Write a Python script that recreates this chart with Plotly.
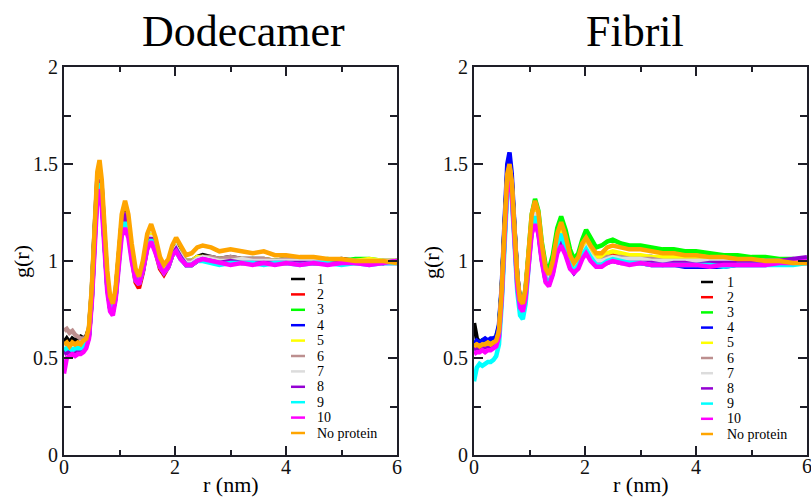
import plotly.graph_objects as go
from plotly.subplots import make_subplots

# ---- data ----
r_nm = [0.00, 0.05, 0.10, 0.15, 0.20, 0.25, 0.30, 0.35, 0.40, 0.45,
        0.50, 0.55, 0.60, 0.64, 0.68, 0.73, 0.78, 0.83, 0.88, 0.93,
        0.98, 1.04, 1.10, 1.16, 1.22, 1.29, 1.35, 1.42, 1.50, 1.57,
        1.65, 1.73, 1.80, 1.88, 1.95, 2.02, 2.10, 2.20, 2.30, 2.40,
        2.50, 2.65, 2.80, 3.00, 3.20, 3.40, 3.60, 3.80, 4.00, 4.25,
        4.50, 4.75, 5.00, 5.25, 5.50, 5.75, 6.00]

series_names = ["1", "2", "3", "4", "5", "6", "7", "8", "9", "10", "No protein"]
series_colors = ["#000000", "#ff0000", "#00ff00", "#0000ff", "#ffff00", "#bc8f8f",
                 "#dcdcdc", "#9400d3", "#00ffff", "#ff00ff", "#ffa500"]

dodecamer_1 = [0.58, 0.60, 0.58, 0.60, 0.59, 0.60, 0.61, 0.60, 0.61, 0.65, 0.84, 1.15, 1.42, 1.47, 1.38, 1.13, 0.90, 0.78, 0.76, 0.84, 1.02, 1.20, 1.26, 1.19, 1.05, 0.93, 0.90, 0.97, 1.10, 1.14, 1.08, 1.00, 0.96, 0.99, 1.05, 1.08, 1.03, 1.00, 1.00, 1.02, 1.03, 1.02, 1.01, 1.02, 1.01, 1.01, 1.01, 1.00, 1.01, 1.00, 1.00, 1.00, 1.01, 1.00, 1.00, 0.99, 1.00]
dodecamer_2 = [0.54, 0.55, 0.54, 0.55, 0.55, 0.54, 0.55, 0.56, 0.57, 0.62, 0.81, 1.12, 1.38, 1.44, 1.35, 1.10, 0.87, 0.76, 0.74, 0.82, 0.99, 1.17, 1.23, 1.16, 1.02, 0.89, 0.86, 0.94, 1.07, 1.12, 1.05, 0.96, 0.93, 0.97, 1.03, 1.06, 1.02, 0.98, 0.98, 1.00, 1.01, 1.00, 0.99, 1.00, 0.99, 0.99, 1.00, 0.99, 0.99, 1.00, 0.99, 0.99, 1.00, 0.99, 0.99, 1.00, 1.00]
dodecamer_3 = [0.56, 0.55, 0.56, 0.57, 0.56, 0.57, 0.56, 0.57, 0.58, 0.63, 0.82, 1.13, 1.39, 1.45, 1.36, 1.11, 0.88, 0.77, 0.75, 0.83, 1.01, 1.19, 1.24, 1.18, 1.04, 0.92, 0.89, 0.96, 1.10, 1.14, 1.07, 0.99, 0.96, 0.99, 1.04, 1.07, 1.03, 1.00, 1.00, 1.01, 1.02, 1.01, 1.01, 1.01, 1.00, 1.01, 1.00, 1.00, 1.01, 1.00, 1.00, 1.01, 1.00, 1.01, 1.01, 1.00, 1.00]
dodecamer_4 = [0.53, 0.54, 0.53, 0.54, 0.55, 0.54, 0.55, 0.55, 0.57, 0.62, 0.81, 1.11, 1.38, 1.43, 1.34, 1.10, 0.88, 0.76, 0.74, 0.82, 1.00, 1.17, 1.22, 1.17, 1.03, 0.91, 0.89, 0.95, 1.08, 1.12, 1.06, 0.98, 0.95, 0.98, 1.03, 1.06, 1.02, 0.98, 0.98, 1.00, 1.01, 1.00, 0.99, 0.99, 1.00, 0.99, 0.99, 0.99, 1.00, 0.99, 0.99, 0.99, 0.99, 1.00, 0.99, 0.99, 0.99]
dodecamer_5 = [0.55, 0.57, 0.56, 0.56, 0.57, 0.56, 0.57, 0.57, 0.59, 0.64, 0.83, 1.14, 1.40, 1.45, 1.36, 1.12, 0.89, 0.78, 0.76, 0.84, 1.02, 1.20, 1.25, 1.19, 1.05, 0.93, 0.90, 0.97, 1.10, 1.14, 1.08, 1.00, 0.96, 0.99, 1.05, 1.07, 1.03, 1.00, 1.00, 1.02, 1.02, 1.01, 1.01, 1.01, 1.01, 1.00, 1.01, 1.00, 1.00, 1.01, 1.00, 1.00, 1.00, 1.00, 1.01, 1.00, 1.00]
dodecamer_6 = [0.64, 0.65, 0.63, 0.64, 0.62, 0.61, 0.60, 0.60, 0.60, 0.64, 0.83, 1.13, 1.39, 1.44, 1.35, 1.11, 0.88, 0.77, 0.75, 0.83, 1.01, 1.18, 1.23, 1.17, 1.04, 0.92, 0.89, 0.96, 1.09, 1.13, 1.07, 0.99, 0.96, 0.99, 1.04, 1.06, 1.03, 1.00, 1.00, 1.01, 1.02, 1.02, 1.01, 1.02, 1.01, 1.01, 1.01, 1.00, 1.01, 1.00, 1.00, 1.00, 1.00, 1.00, 0.99, 1.00, 1.00]
dodecamer_7 = [0.56, 0.56, 0.57, 0.56, 0.57, 0.57, 0.56, 0.58, 0.58, 0.63, 0.82, 1.13, 1.39, 1.44, 1.35, 1.11, 0.88, 0.77, 0.75, 0.83, 1.01, 1.18, 1.24, 1.18, 1.04, 0.92, 0.89, 0.96, 1.09, 1.13, 1.07, 0.99, 0.95, 0.98, 1.04, 1.07, 1.03, 0.99, 0.99, 1.01, 1.02, 1.01, 1.00, 1.00, 1.01, 1.00, 1.00, 1.00, 1.00, 1.00, 1.00, 0.99, 1.00, 1.00, 1.00, 1.00, 1.00]
dodecamer_8 = [0.52, 0.53, 0.52, 0.53, 0.53, 0.53, 0.54, 0.54, 0.56, 0.61, 0.80, 1.11, 1.37, 1.42, 1.34, 1.10, 0.87, 0.76, 0.74, 0.82, 1.00, 1.19, 1.25, 1.18, 1.03, 0.91, 0.88, 0.95, 1.08, 1.12, 1.06, 0.98, 0.94, 0.97, 1.03, 1.06, 1.02, 0.98, 0.98, 1.00, 1.01, 1.00, 0.99, 1.00, 0.99, 0.99, 0.99, 0.99, 0.99, 0.99, 0.99, 0.99, 0.99, 0.99, 0.99, 0.99, 1.00]
dodecamer_9 = [0.54, 0.55, 0.55, 0.54, 0.55, 0.55, 0.55, 0.56, 0.57, 0.62, 0.80, 1.10, 1.36, 1.40, 1.32, 1.09, 0.86, 0.76, 0.74, 0.81, 0.99, 1.15, 1.20, 1.15, 1.02, 0.90, 0.88, 0.95, 1.07, 1.11, 1.05, 0.97, 0.94, 0.97, 1.03, 1.05, 1.01, 0.98, 0.98, 1.00, 1.00, 0.99, 0.98, 0.99, 0.99, 0.99, 0.98, 0.99, 0.99, 0.98, 0.99, 0.99, 0.98, 0.99, 0.98, 0.99, 0.99]
dodecamer_10 = [0.42, 0.50, 0.51, 0.52, 0.51, 0.52, 0.52, 0.53, 0.55, 0.60, 0.78, 1.08, 1.32, 1.37, 1.28, 1.06, 0.84, 0.74, 0.72, 0.80, 0.98, 1.13, 1.17, 1.12, 1.00, 0.90, 0.88, 0.95, 1.06, 1.10, 1.04, 0.97, 0.94, 0.97, 1.03, 1.05, 1.01, 0.98, 0.98, 1.00, 1.01, 1.00, 0.99, 0.98, 0.99, 0.98, 0.99, 0.98, 0.99, 0.98, 0.99, 0.98, 0.99, 0.99, 0.98, 0.99, 1.00]
dodecamer_np = [0.57, 0.58, 0.56, 0.58, 0.57, 0.58, 0.57, 0.59, 0.60, 0.66, 0.86, 1.18, 1.46, 1.52, 1.42, 1.18, 0.95, 0.82, 0.78, 0.86, 1.05, 1.24, 1.31, 1.24, 1.09, 0.96, 0.92, 1.00, 1.14, 1.19, 1.12, 1.02, 0.98, 1.01, 1.08, 1.12, 1.08, 1.03, 1.04, 1.07, 1.08, 1.07, 1.05, 1.06, 1.05, 1.04, 1.05, 1.03, 1.03, 1.02, 1.02, 1.01, 1.01, 1.00, 1.00, 1.00, 0.99]

fibril_1 = [0.68, 0.60, 0.58, 0.59, 0.58, 0.58, 0.58, 0.59, 0.60, 0.65, 0.85, 1.17, 1.45, 1.51, 1.41, 1.16, 0.92, 0.79, 0.77, 0.85, 1.03, 1.21, 1.27, 1.21, 1.06, 0.94, 0.91, 0.98, 1.11, 1.15, 1.09, 1.00, 0.97, 1.00, 1.06, 1.09, 1.05, 1.01, 1.01, 1.03, 1.04, 1.03, 1.02, 1.02, 1.02, 1.01, 1.01, 1.01, 1.00, 1.01, 1.00, 1.00, 1.00, 1.00, 0.99, 1.00, 1.00]
fibril_2 = [0.56, 0.56, 0.57, 0.56, 0.57, 0.57, 0.57, 0.58, 0.59, 0.64, 0.84, 1.16, 1.43, 1.49, 1.39, 1.14, 0.90, 0.78, 0.76, 0.84, 1.02, 1.20, 1.26, 1.20, 1.05, 0.93, 0.90, 0.97, 1.10, 1.14, 1.08, 0.99, 0.96, 0.99, 1.05, 1.08, 1.04, 1.00, 1.00, 1.02, 1.03, 1.02, 1.01, 1.01, 1.01, 1.00, 1.01, 1.00, 1.00, 1.00, 1.00, 1.00, 0.99, 1.00, 0.99, 1.00, 1.00]
fibril_3 = [0.57, 0.58, 0.58, 0.59, 0.58, 0.59, 0.59, 0.60, 0.61, 0.66, 0.85, 1.16, 1.43, 1.48, 1.39, 1.15, 0.91, 0.79, 0.78, 0.86, 1.05, 1.24, 1.32, 1.26, 1.10, 0.98, 0.96, 1.03, 1.17, 1.23, 1.16, 1.06, 1.01, 1.04, 1.11, 1.16, 1.12, 1.07, 1.08, 1.10, 1.11, 1.09, 1.08, 1.08, 1.07, 1.06, 1.06, 1.05, 1.05, 1.04, 1.03, 1.03, 1.02, 1.02, 1.01, 1.01, 1.00]
fibril_4 = [0.57, 0.59, 0.58, 0.59, 0.60, 0.59, 0.60, 0.60, 0.61, 0.67, 0.87, 1.20, 1.50, 1.56, 1.45, 1.17, 0.92, 0.79, 0.76, 0.83, 1.01, 1.17, 1.22, 1.16, 1.02, 0.91, 0.89, 0.95, 1.07, 1.11, 1.05, 0.97, 0.94, 0.97, 1.03, 1.05, 1.01, 0.98, 0.98, 1.00, 1.01, 1.00, 0.99, 0.99, 0.98, 0.98, 0.98, 0.97, 0.97, 0.97, 0.97, 0.98, 0.98, 0.98, 0.99, 0.99, 0.99]
fibril_5 = [0.55, 0.56, 0.55, 0.56, 0.56, 0.57, 0.57, 0.57, 0.58, 0.63, 0.83, 1.15, 1.43, 1.49, 1.39, 1.14, 0.90, 0.78, 0.76, 0.84, 1.03, 1.21, 1.28, 1.22, 1.07, 0.95, 0.92, 0.99, 1.12, 1.17, 1.10, 1.01, 0.98, 1.01, 1.07, 1.10, 1.06, 1.02, 1.02, 1.04, 1.05, 1.04, 1.03, 1.03, 1.02, 1.02, 1.02, 1.01, 1.01, 1.01, 1.01, 1.00, 1.00, 1.00, 1.00, 1.00, 1.00]
fibril_6 = [0.56, 0.57, 0.56, 0.57, 0.56, 0.57, 0.57, 0.58, 0.58, 0.63, 0.83, 1.15, 1.42, 1.48, 1.38, 1.14, 0.90, 0.78, 0.76, 0.84, 1.02, 1.20, 1.25, 1.19, 1.05, 0.93, 0.90, 0.97, 1.09, 1.13, 1.07, 0.99, 0.96, 0.99, 1.04, 1.07, 1.03, 1.00, 1.00, 1.02, 1.02, 1.02, 1.01, 1.01, 1.01, 1.00, 1.00, 1.00, 1.00, 1.00, 1.00, 1.00, 1.00, 1.00, 1.00, 1.00, 1.00]
fibril_7 = [0.55, 0.56, 0.56, 0.56, 0.57, 0.56, 0.57, 0.57, 0.58, 0.63, 0.83, 1.15, 1.42, 1.48, 1.38, 1.13, 0.90, 0.78, 0.76, 0.84, 1.02, 1.19, 1.25, 1.19, 1.05, 0.93, 0.90, 0.97, 1.09, 1.13, 1.07, 0.99, 0.96, 0.99, 1.04, 1.07, 1.03, 1.00, 1.00, 1.01, 1.02, 1.01, 1.01, 1.01, 1.00, 1.00, 1.00, 1.00, 1.00, 1.00, 1.00, 1.00, 1.00, 1.00, 1.00, 1.00, 1.00]
fibril_8 = [0.54, 0.55, 0.55, 0.55, 0.56, 0.55, 0.56, 0.56, 0.57, 0.62, 0.82, 1.13, 1.40, 1.46, 1.36, 1.12, 0.88, 0.77, 0.75, 0.82, 1.00, 1.16, 1.21, 1.15, 1.01, 0.90, 0.88, 0.94, 1.06, 1.10, 1.04, 0.97, 0.94, 0.97, 1.02, 1.05, 1.01, 0.98, 0.98, 0.99, 1.00, 0.99, 0.99, 0.99, 0.99, 0.98, 0.99, 0.99, 0.98, 0.99, 0.99, 0.99, 0.99, 1.00, 1.00, 1.01, 1.02]
fibril_9 = [0.38, 0.45, 0.47, 0.46, 0.47, 0.48, 0.48, 0.49, 0.51, 0.57, 0.78, 1.09, 1.36, 1.42, 1.33, 1.09, 0.84, 0.72, 0.70, 0.78, 0.98, 1.17, 1.23, 1.17, 1.02, 0.90, 0.88, 0.94, 1.09, 1.14, 1.07, 0.98, 0.95, 0.98, 1.03, 1.06, 1.02, 0.98, 0.98, 1.00, 1.01, 1.00, 0.99, 0.99, 0.98, 0.98, 0.98, 0.98, 0.98, 0.98, 0.97, 0.98, 0.98, 0.98, 0.98, 0.98, 0.99]
fibril_10 = [0.52, 0.53, 0.53, 0.54, 0.53, 0.54, 0.54, 0.55, 0.56, 0.61, 0.81, 1.12, 1.39, 1.45, 1.35, 1.11, 0.87, 0.76, 0.74, 0.81, 0.99, 1.14, 1.19, 1.14, 1.00, 0.89, 0.87, 0.93, 1.04, 1.08, 1.03, 0.96, 0.94, 0.96, 1.01, 1.04, 1.00, 0.97, 0.97, 0.99, 1.00, 0.99, 0.98, 0.99, 0.98, 0.98, 0.98, 0.98, 0.98, 0.97, 0.98, 0.98, 0.98, 0.98, 0.99, 0.99, 1.00]
fibril_np = [0.56, 0.57, 0.56, 0.57, 0.57, 0.58, 0.57, 0.58, 0.59, 0.64, 0.85, 1.17, 1.45, 1.50, 1.41, 1.16, 0.92, 0.80, 0.78, 0.86, 1.05, 1.24, 1.31, 1.25, 1.09, 0.96, 0.93, 1.00, 1.14, 1.20, 1.13, 1.03, 0.99, 1.02, 1.09, 1.12, 1.08, 1.04, 1.04, 1.07, 1.08, 1.07, 1.06, 1.06, 1.05, 1.04, 1.04, 1.03, 1.03, 1.02, 1.02, 1.01, 1.01, 1.00, 1.00, 0.99, 0.99]

dodecamer_series = [dodecamer_1, dodecamer_2, dodecamer_3, dodecamer_4, dodecamer_5, dodecamer_6,
                    dodecamer_7, dodecamer_8, dodecamer_9, dodecamer_10, dodecamer_np]
fibril_series = [fibril_1, fibril_2, fibril_3, fibril_4, fibril_5, fibril_6,
                 fibril_7, fibril_8, fibril_9, fibril_10, fibril_np]

panel_titles = ["Dodecamer", "Fibril"]
x_ticks = [0, 2, 4, 6]
y_ticks = [0, 0.5, 1, 1.5, 2]
y_tick_text = ["0", "0.5", "1", "1.5", "2"]

# ---- figure ----
W, H = 811, 497
SERIF = "Liberation Serif, Times New Roman, serif"

def px(x):
    return x / W

def py(y):
    return 1 - y / H

fig = make_subplots(rows=1, cols=2)

for col, data in ((1, dodecamer_series), (2, fibril_series)):
    for name, color, vals in zip(series_names, series_colors, data):
        assert len(vals) == len(r_nm)
        fig.add_trace(go.Scatter(x=r_nm, y=vals, mode="lines", name=name,
                                 line=dict(color=color, width=4.5),
                                 showlegend=False), row=1, col=col)

axis_common = dict(showline=True, linecolor="#1e1e28", linewidth=2, mirror="ticks",
                   ticks="inside", ticklen=9, tickwidth=1.5, tickcolor="#1e1e28",
                   showgrid=False, zeroline=False, automargin=False,
                   tickfont=dict(family=SERIF, size=20, color="#111111"))

x_dom = [[px(64), px(397)], [px(474), px(807)]]
y_dom = [py(455), py(67)]
for i, ax in enumerate(("xaxis", "xaxis2")):
    fig.layout[ax].update(range=[0, 6], tickvals=x_ticks, domain=x_dom[i],
                          ticklabelstandoff=-7,
                          minor=dict(ticks="inside", dtick=1, ticklen=5, tickcolor="#1e1e28"),
                          **axis_common)
for i, ax in enumerate(("yaxis", "yaxis2")):
    fig.layout[ax].update(range=[0, 2], tickvals=y_ticks, ticktext=y_tick_text, domain=y_dom,
                          minor=dict(ticks="inside", dtick=0.25, ticklen=7, tickcolor="#1e1e28"),
                          **axis_common)

annotations = []
shapes = []
centers = [(64 + 397) / 2, (474 + 807) / 2]
title_x = [243, 635]
for i in range(2):
    annotations.append(dict(text=panel_titles[i], x=px(title_x[i]), y=py(32), xref="paper", yref="paper",
                            showarrow=False, xanchor="center", yanchor="middle",
                            font=dict(family=SERIF, size=44, color="#000000")))
    annotations.append(dict(text="r (nm)", x=px(centers[i]), y=py(484), xref="paper", yref="paper",
                            showarrow=False, xanchor="center", yanchor="middle",
                            font=dict(family=SERIF, size=22, color="#000000")))
    annotations.append(dict(text="g(r)", x=px([21, 431][i]), y=py(262), xref="paper", yref="paper",
                            showarrow=False, xanchor="center", yanchor="middle", textangle=-90,
                            font=dict(family=SERIF, size=22, color="#000000")))

# last x tick label of the right panel sits on the page edge; plotly drops it, so draw it as text
annotations.append(dict(text=str(x_ticks[-1]), x=x_ticks[-1], xref="x2", y=py(466), yref="paper",
                        showarrow=False, xanchor="center", yanchor="middle",
                        font=dict(family=SERIF, size=20, color="#111111")))

# legends drawn inside each panel
leg_cfg = [dict(x0=291, x1=305, xt=315, y0=279, dy=15.4),
           dict(x0=701, x1=713, xt=725, y0=282, dy=15.2)]
for cfg in leg_cfg:
    for k, (name, color) in enumerate(zip(series_names, series_colors)):
        yy = cfg["y0"] + k * cfg["dy"]
        shapes.append(dict(type="line", xref="paper", yref="paper",
                           x0=px(cfg["x0"]), x1=px(cfg["x1"]), y0=py(yy), y1=py(yy),
                           line=dict(color=color, width=2.5)))
        annotations.append(dict(text=name, x=px(cfg["xt"]), y=py(yy), xref="paper", yref="paper",
                                showarrow=False, xanchor="left", yanchor="middle",
                                font=dict(family=SERIF, size=14, color="#000000")))

fig.update_layout(width=W, height=H, autosize=False,
                  margin=dict(l=0, r=0, t=0, b=0),
                  paper_bgcolor="white", plot_bgcolor="white",
                  showlegend=False, annotations=annotations, shapes=shapes)

fig.write_html("out.html", config={"displayModeBar": False},
               post_script="document.body.style.margin='0';document.body.style.overflow='hidden';")
